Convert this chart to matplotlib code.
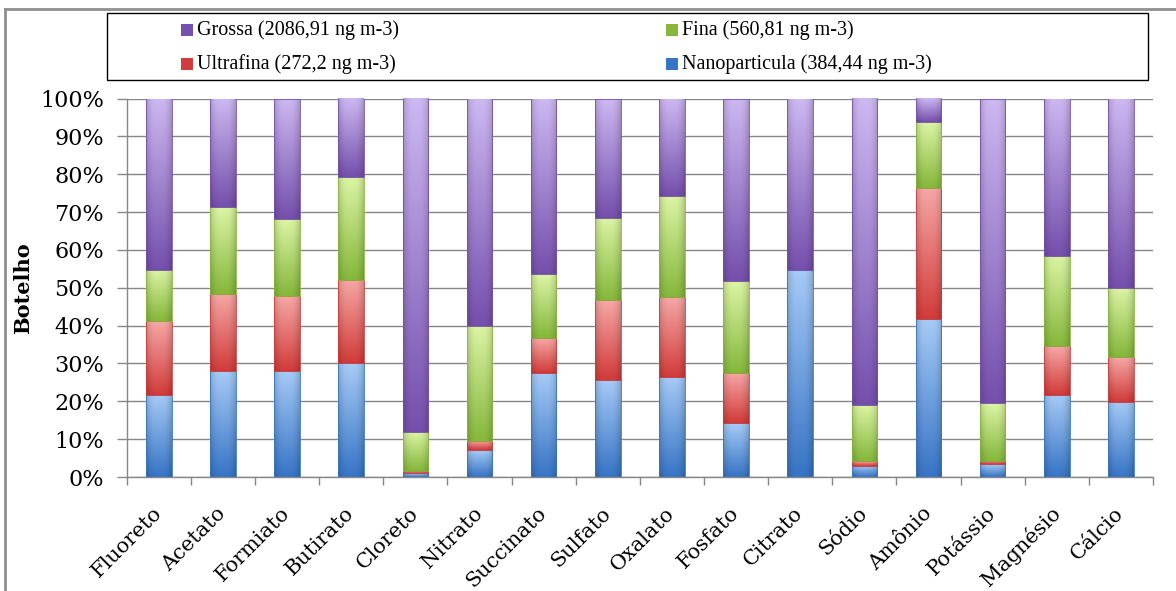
##################################################################################################
#                    STACKED 100% BARS - BOTELHO
##################################################################################################

import numpy as np
import matplotlib
matplotlib.use('Agg')
import matplotlib.pyplot as plt
from matplotlib.patches import Rectangle
from matplotlib.lines import Line2D

categories = ['Fluoreto', 'Acetato', 'Formiato', 'Butirato', 'Cloreto', 'Nitrato', 'Succinato',
              'Sulfato', 'Oxalato', 'Fosfato', 'Citrato', 'Sódio', 'Amônio', 'Potássio',
              'Magnésio', 'Cálcio']

# percentages of each fraction (bottom to top)
nano = [21.7, 27.9, 28.1, 30.1, 1.0, 7.1, 27.6, 25.7, 26.5, 14.2, 54.8, 3.0, 41.7, 3.4, 21.7, 19.9]
ultrafina = [19.4, 20.5, 19.8, 22.0, 0.5, 2.4, 9.1, 21.0, 21.0, 13.4, 0.0, 1.2, 34.7, 0.9, 12.8, 11.7]
fina = [13.7, 22.9, 20.3, 27.1, 10.5, 30.4, 16.9, 21.7, 26.8, 24.3, 0.0, 14.8, 17.3, 15.2, 23.8, 18.3]
grossa = [45.2, 28.7, 31.8, 20.8, 88.0, 60.1, 46.4, 31.6, 25.7, 48.1, 45.2, 81.0, 6.3, 80.5, 41.7, 50.1]

series_names = ['Nanoparticula (384,44 ng m-3)', 'Ultrafina (272,2 ng m-3)',
                'Fina (560,81 ng m-3)', 'Grossa (2086,91 ng m-3)']

# (light top, dark bottom) colours for each series
colors = [('#a6cbf7', '#3775c6'),
          ('#f7a8a6', '#d23c3a'),
          ('#dcf5a4', '#86b83c'),
          ('#cdb8f2', '#7650ad')]

W, H = 1176, 591
BAR_W = 0.4


#################################################

def gradientSegment(ax, x, bottom, height, light, dark):
    """
    gradientSegment : draw one bar segment with a vertical gradient (Excel-like bevel)
    """
    if height <= 0:
        return
    c0 = np.array(matplotlib.colors.to_rgb(light))
    c1 = np.array(matplotlib.colors.to_rgb(dark))
    t = np.linspace(0, 1, 60)[:, None, None]
    s = np.linspace(-1, 1, 30)[None, :, None]
    img = c0 * (1 - t) + c1 * t
    img = img * (1 - 0.18 * np.abs(s) ** 3)
    img = np.clip(img, 0, 1)

    rect = Rectangle((x - BAR_W / 2, bottom), BAR_W, height, facecolor='none',
                     edgecolor=dark, linewidth=0.6, zorder=3)
    ax.add_patch(rect)
    im = ax.imshow(img, extent=(x - BAR_W / 2, x + BAR_W / 2, bottom, bottom + height),
                   origin='upper', aspect='auto', interpolation='bilinear', zorder=2)
    im.set_clip_path(rect)


#################################################

fig = plt.figure(figsize=(W / 100, H / 100), dpi=100)
ax = fig.add_axes([126.7 / W, 1 - 477 / H, (1153 - 126.7) / W, (477 - 98.5) / H])

x = np.arange(len(categories))
data = [nano, ultrafina, fina, grossa]
bottoms = np.zeros(len(categories))
for k, vals in enumerate(data):
    for i in range(len(categories)):
        gradientSegment(ax, x[i], bottoms[i], vals[i], colors[k][0], colors[k][1])
    bottoms = bottoms + np.array(vals)

ax.set_xlim(-0.5, len(categories) - 0.5)
ax.set_ylim(0, 100)

grid_c = '#878787'
ax.set_yticks(np.arange(0, 101, 10))
ax.set_yticklabels([str(v) + '%' for v in range(0, 101, 10)], family='DejaVu Serif', fontsize=16)
ax.yaxis.grid(True, color=grid_c, linewidth=1.0)
ax.set_axisbelow(True)
ax.tick_params(axis='y', length=7.2, width=1, color=grid_c, pad=9)

ax.set_xticks(x)
ax.set_xticklabels(categories, rotation=45, ha='right', va='center', rotation_mode='anchor',
                   family='DejaVu Serif', fontsize=15)
ax.set_xticks(np.arange(-0.5, len(categories), 1), minor=True)
ax.tick_params(axis='x', which='major', length=0, pad=24)
ax.tick_params(axis='x', which='minor', length=6, width=1, color=grid_c)

for side in ['top', 'right']:
    ax.spines[side].set_visible(False)
for side in ['left', 'bottom']:
    ax.spines[side].set_color(grid_c)
    ax.spines[side].set_linewidth(1.0)

ax.set_ylabel('Botelho', family='DejaVu Serif', fontweight='bold', fontsize=15, labelpad=5)

# outer chart frame
frame_c = '#8f8f8f'
fig.add_artist(Line2D([5 / W, 1], [1 - 9 / H, 1 - 9 / H], color=frame_c, linewidth=2))
fig.add_artist(Line2D([5 / W, 5 / W], [0, 1 - 9 / H], color=frame_c, linewidth=2))

# legend box drawn by hand (two columns like the original)
fig.add_artist(Rectangle((107 / W, 1 - 80 / H), (1148 - 107) / W, 67 / H, transform=fig.transFigure,
                         facecolor='white', edgecolor='black', linewidth=1.0))
legend_pos = {3: (181, 30), 1: (181, 64), 2: (666, 30), 0: (666, 64)}
for k, (px, py) in legend_pos.items():
    fig.add_artist(Rectangle((px / W, 1 - (py + 6) / H), 12 / W, 12 / H, transform=fig.transFigure,
                             facecolor=colors[k][1], edgecolor='none'))
    fig.text((px + 16) / W, 1 - py / H, series_names[k], family='Liberation Serif', fontsize=14.5,
             va='center', ha='left')

fig.savefig('out.png', dpi=100)
